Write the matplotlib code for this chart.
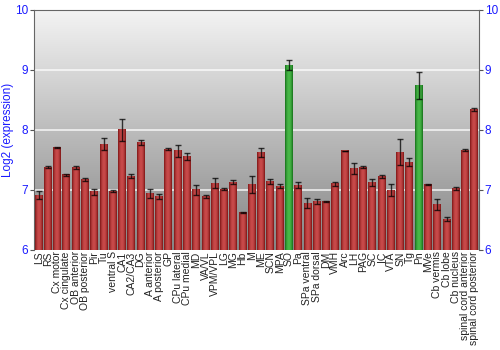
import numpy as np
import matplotlib.pyplot as plt
from matplotlib.colors import LinearSegmentedColormap

# Brain regions and log2 expression values
regions = ["LS", "RS", "Cx motor", "Cx cingulate", "OB anterior", "OB posterior",
           "Pir", "Tu", "ventral S", "CA1", "CA2/CA3", "DG", "A anterior",
           "A posterior", "GP", "CPu lateral", "CPu medial", "MD", "VA/VL",
           "VPM/VPL", "LG", "MG", "Hb", "M", "ME", "SCN", "MPA", "SO", "Pa",
           "SPa ventral", "SPa dorsal", "DM", "VMH", "Arc", "LH", "PAG", "SC",
           "IC", "VTA", "SN", "Tg", "Pn", "MVe", "Cb vermis", "Cb lobe",
           "Cb nucleus", "spinal cord anterior", "spinal cord posterior"]
values = [6.91, 7.38, 7.71, 7.25, 7.37, 7.17, 6.97, 7.76, 6.98, 8.00, 7.23, 7.79,
          6.94, 6.89, 7.68, 7.65, 7.55, 7.00, 6.89, 7.11, 7.01, 7.13, 6.62, 7.09,
          7.62, 7.14, 7.06, 9.08, 7.08, 6.78, 6.80, 6.80, 7.10, 7.65, 7.36, 7.38,
          7.12, 7.22, 6.99, 7.63, 7.46, 8.74, 7.09, 6.76, 6.51, 7.02, 7.66, 8.34]
errors = [0.07, 0.01, 0.01, 0.02, 0.03, 0.03, 0.05, 0.10, 0.02, 0.18, 0.03, 0.04,
          0.07, 0.04, 0.01, 0.10, 0.06, 0.08, 0.03, 0.08, 0.02, 0.04, 0.01, 0.14,
          0.08, 0.04, 0.03, 0.08, 0.05, 0.08, 0.04, 0.01, 0.03, 0.005, 0.09, 0.02,
          0.06, 0.03, 0.10, 0.21, 0.07, 0.22, 0.005, 0.09, 0.03, 0.03, 0.02, 0.02]
highlight = ["SO", "Pn"]

plt.rcParams["font.family"] = ["Liberation Sans", "DejaVu Sans"]

fig = plt.figure(figsize=(5, 3.5), dpi=100)
ax = fig.add_axes([0.068, 0.286, 0.89, 0.686])

n = len(regions)
x = np.arange(n)
ax.set_xlim(-0.5, n - 0.5)
ax.set_ylim(6, 10)

# grey gradient background
bg = np.linspace(0, 1, 256).reshape(-1, 1)
bg_cmap = LinearSegmentedColormap.from_list("bg", ["#858585", "#f4f4f4"])
ax.imshow(bg, cmap=bg_cmap, extent=(-0.5, n - 0.5, 6, 10), origin="lower",
          aspect="auto", zorder=0)

for yv in [7, 8, 9]:
    ax.axhline(yv, color="white", lw=1.2, alpha=0.8, zorder=1)

# bars with a horizontal shine
shade = (1 - np.abs(np.linspace(-1, 1, 32)) ** 2).reshape(1, -1)
red = LinearSegmentedColormap.from_list("red", ["#7e1515", "#c84a4a"])
green = LinearSegmentedColormap.from_list("green", ["#16701a", "#48b848"])
w = 0.86
for xi, name, v in zip(x, regions, values):
    cmap = green if name in highlight else red
    ax.imshow(shade, cmap=cmap, vmin=0, vmax=1, aspect="auto",
              extent=(xi - w / 2, xi + w / 2, 6, v), zorder=2)

ax.errorbar(x, values, yerr=errors, fmt="none", ecolor="black", elinewidth=1,
            capsize=2, capthick=1, alpha=0.75, zorder=4)

ax.set_xticks(x)
ax.set_xticklabels(regions, rotation=90, fontsize=7.5, color="#222222")
ax.tick_params(axis="x", length=0, pad=1)
ax.set_yticks([6, 7, 8, 9, 10])
ax.tick_params(axis="y", colors="#555555", labelcolor="#1a1aff", labelsize=8.5,
               length=3, pad=1, right=True, labelright=True)
ax.set_ylabel("Log2 (expression)", color="#1a1aff", fontsize=8.5)
ax.yaxis.set_label_coords(-0.044, 0.5)

for s in ["top", "left", "right"]:
    ax.spines[s].set_color("#666666")
ax.spines["bottom"].set_visible(False)

fig.savefig("out.png", dpi=100)
